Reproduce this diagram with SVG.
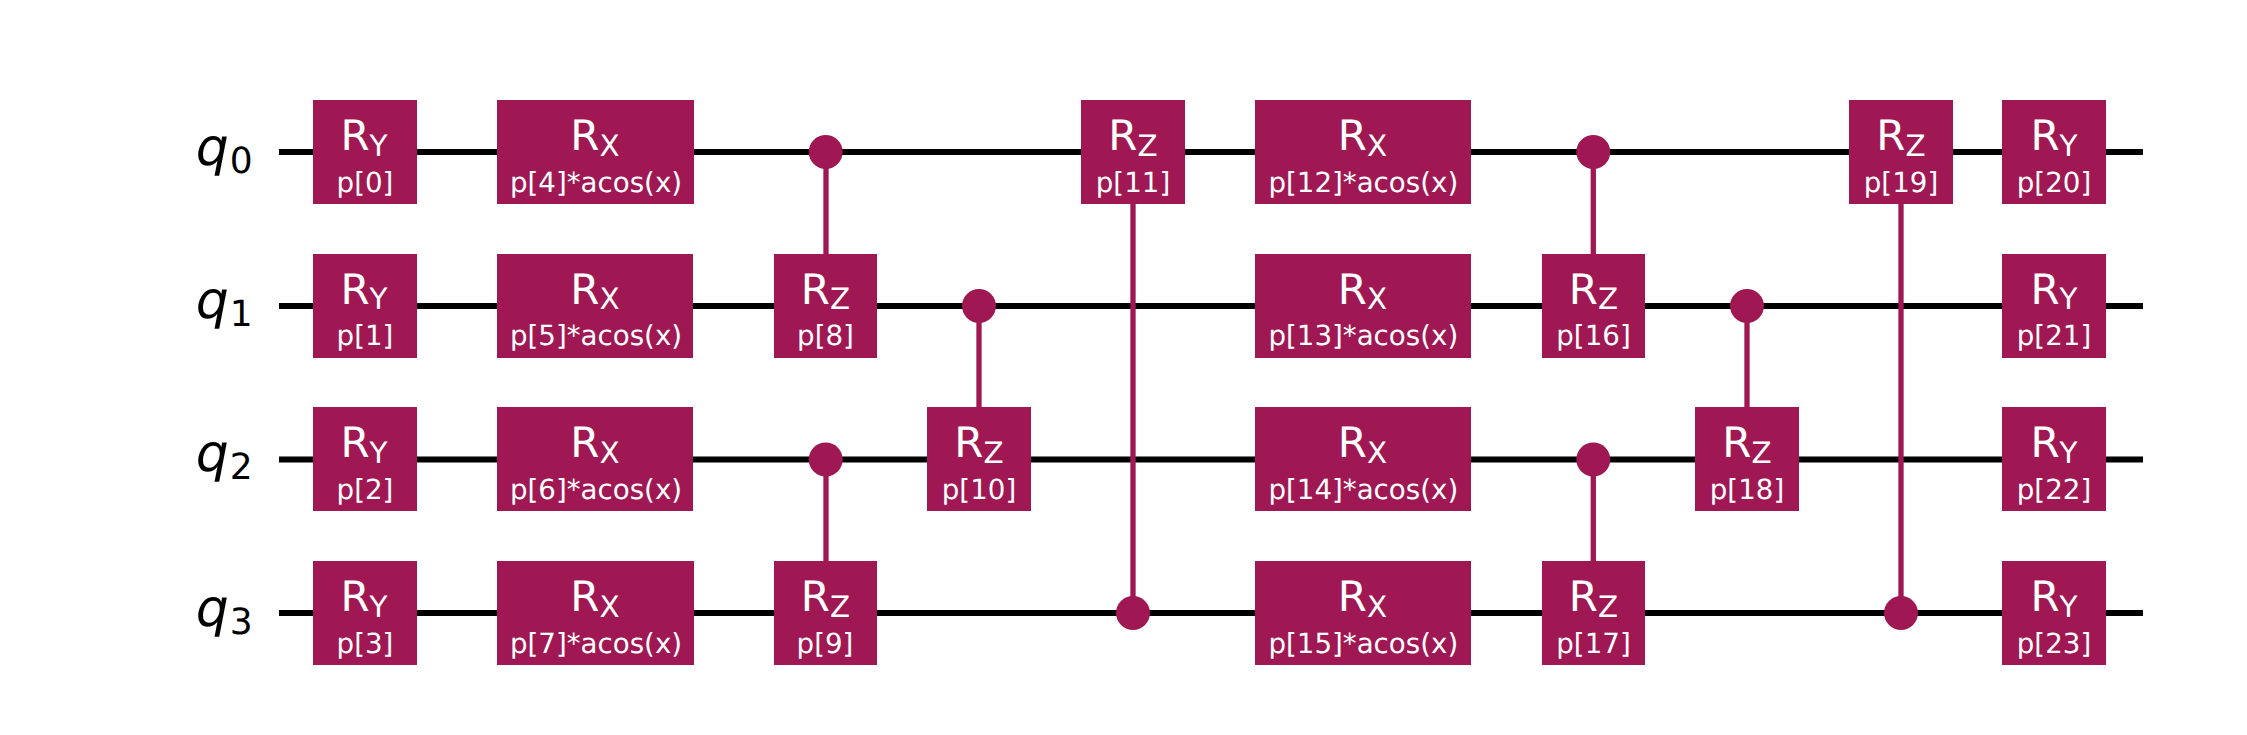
<svg xmlns="http://www.w3.org/2000/svg" width="2247" height="735" viewBox="0 0 2247 735">
<style>
text{font-family:"DejaVu Sans",sans-serif;text-anchor:middle;text-rendering:geometricPrecision}
.g{fill:#9f1853}
.m{fill:#fff;font-size:42px}
.m tspan{font-size:29.4px}
.s{fill:#fff;font-size:27.7px}
.w{stroke:#000;stroke-width:6;fill:none}
.c{stroke:#9f1853;stroke-width:5.3;fill:none}
.q{fill:#000;font-size:52px;font-style:italic;text-anchor:end}
.q tspan{font-size:36px;font-style:normal}
</style>
<rect width="2247" height="735" fill="#fff"/>
<g id="labels">
<text class="q" x="252.7" y="165">q<tspan dx="1" dy="8.1">0</tspan></text>
<text class="q" x="252.7" y="318">q<tspan dx="1" dy="8.1">1</tspan></text>
<text class="q" x="252.7" y="471.2">q<tspan dx="1" dy="8.1">2</tspan></text>
<text class="q" x="252.7" y="626">q<tspan dx="1" dy="8.1">3</tspan></text>
</g>
<g id="wires">
<path class="w" d="M279 152H2143"/>
<path class="w" d="M279 306H2143"/>
<path class="w" d="M279 459.5H2143"/>
<path class="w" d="M279 613H2143"/>
</g>
<g id="connectors">
<path class="c" d="M826 152V254"/>
<path class="c" d="M826 459.5V561"/>
<path class="c" d="M979 306V407"/>
<path class="c" d="M1133 204V613"/>
<path class="c" d="M1593.3 152V254"/>
<path class="c" d="M1593.3 459.5V561"/>
<path class="c" d="M1747 306V407"/>
<path class="c" d="M1901 204V613"/>
</g>
<g id="controls">
<circle class="g" cx="825.7" cy="152" r="17"/>
<circle class="g" cx="825.7" cy="459.5" r="17"/>
<circle class="g" cx="979" cy="306" r="17"/>
<circle class="g" cx="1133" cy="613" r="17"/>
<circle class="g" cx="1593.3" cy="152" r="17"/>
<circle class="g" cx="1593.3" cy="459.5" r="17"/>
<circle class="g" cx="1747" cy="306" r="17"/>
<circle class="g" cx="1901" cy="613" r="17"/>
</g>
<g id="gate-ry0"><rect class="g" x="313" y="100" width="104" height="104"/><text class="m" x="364" y="150">R<tspan dy="5.7">Y</tspan></text><text class="s" x="365" y="191.5">p[0]</text></g>
<g id="gate-ry1"><rect class="g" x="313" y="254" width="104" height="104"/><text class="m" x="364" y="303.7">R<tspan dy="5.7">Y</tspan></text><text class="s" x="365" y="345">p[1]</text></g>
<g id="gate-ry2"><rect class="g" x="313" y="407" width="104" height="104"/><text class="m" x="364" y="457">R<tspan dy="5.7">Y</tspan></text><text class="s" x="365" y="498.5">p[2]</text></g>
<g id="gate-ry3"><rect class="g" x="313" y="561" width="104" height="104"/><text class="m" x="364" y="611">R<tspan dy="5.7">Y</tspan></text><text class="s" x="365" y="652.5">p[3]</text></g>
<g id="gate-rx4"><rect class="g" x="497" y="100" width="197" height="104"/><text class="m" x="595" y="150">R<tspan dy="5.7">X</tspan></text><text class="s" x="596" y="191.5">p[4]*acos(x)</text></g>
<g id="gate-rx5"><rect class="g" x="497" y="254" width="196" height="104"/><text class="m" x="595" y="303.7">R<tspan dy="5.7">X</tspan></text><text class="s" x="596" y="345">p[5]*acos(x)</text></g>
<g id="gate-rx6"><rect class="g" x="497" y="407" width="196" height="104"/><text class="m" x="595" y="457">R<tspan dy="5.7">X</tspan></text><text class="s" x="596" y="498.5">p[6]*acos(x)</text></g>
<g id="gate-rx7"><rect class="g" x="497" y="561" width="197" height="104"/><text class="m" x="595" y="611">R<tspan dy="5.7">X</tspan></text><text class="s" x="596" y="652.5">p[7]*acos(x)</text></g>
<g id="gate-rz8"><rect class="g" x="774" y="254" width="103" height="104"/><text class="m" x="825.5" y="303.7">R<tspan dy="5.7">Z</tspan></text><text class="s" x="825.5" y="345">p[8]</text></g>
<g id="gate-rz9"><rect class="g" x="774" y="561" width="103" height="104"/><text class="m" x="825.5" y="611">R<tspan dy="5.7">Z</tspan></text><text class="s" x="825" y="652.5">p[9]</text></g>
<g id="gate-rz10"><rect class="g" x="927" y="407" width="104" height="104"/><text class="m" x="979" y="457">R<tspan dy="5.7">Z</tspan></text><text class="s" x="979" y="498.5">p[10]</text></g>
<g id="gate-rz11"><rect class="g" x="1081" y="100" width="104" height="104"/><text class="m" x="1133" y="150">R<tspan dy="5.7">Z</tspan></text><text class="s" x="1133" y="191.5">p[11]</text></g>
<g id="gate-rx12"><rect class="g" x="1255" y="100" width="216" height="104"/><text class="m" x="1362.5" y="150">R<tspan dy="5.7">X</tspan></text><text class="s" x="1363.3" y="191.5">p[12]*acos(x)</text></g>
<g id="gate-rx13"><rect class="g" x="1255" y="254" width="216" height="104"/><text class="m" x="1362.5" y="303.7">R<tspan dy="5.7">X</tspan></text><text class="s" x="1363.3" y="345">p[13]*acos(x)</text></g>
<g id="gate-rx14"><rect class="g" x="1255" y="407" width="216" height="104"/><text class="m" x="1362.5" y="457">R<tspan dy="5.7">X</tspan></text><text class="s" x="1363.3" y="498.5">p[14]*acos(x)</text></g>
<g id="gate-rx15"><rect class="g" x="1255" y="561" width="216" height="104"/><text class="m" x="1362.5" y="611">R<tspan dy="5.7">X</tspan></text><text class="s" x="1363.3" y="652.5">p[15]*acos(x)</text></g>
<g id="gate-rz16"><rect class="g" x="1542" y="254" width="103" height="104"/><text class="m" x="1593.5" y="303.7">R<tspan dy="5.7">Z</tspan></text><text class="s" x="1593.5" y="345">p[16]</text></g>
<g id="gate-rz17"><rect class="g" x="1542" y="561" width="103" height="104"/><text class="m" x="1593.5" y="611">R<tspan dy="5.7">Z</tspan></text><text class="s" x="1593.5" y="652.5">p[17]</text></g>
<g id="gate-rz18"><rect class="g" x="1695" y="407" width="104" height="104"/><text class="m" x="1747" y="457">R<tspan dy="5.7">Z</tspan></text><text class="s" x="1747" y="498.5">p[18]</text></g>
<g id="gate-rz19"><rect class="g" x="1849" y="100" width="104" height="104"/><text class="m" x="1901" y="150">R<tspan dy="5.7">Z</tspan></text><text class="s" x="1901" y="191.5">p[19]</text></g>
<g id="gate-ry20"><rect class="g" x="2002" y="100" width="104" height="104"/><text class="m" x="2054" y="150">R<tspan dy="5.7">Y</tspan></text><text class="s" x="2054" y="191.5">p[20]</text></g>
<g id="gate-ry21"><rect class="g" x="2002" y="254" width="104" height="104"/><text class="m" x="2054" y="303.7">R<tspan dy="5.7">Y</tspan></text><text class="s" x="2054" y="345">p[21]</text></g>
<g id="gate-ry22"><rect class="g" x="2002" y="407" width="104" height="104"/><text class="m" x="2054" y="457">R<tspan dy="5.7">Y</tspan></text><text class="s" x="2054" y="498.5">p[22]</text></g>
<g id="gate-ry23"><rect class="g" x="2002" y="561" width="104" height="104"/><text class="m" x="2054" y="611">R<tspan dy="5.7">Y</tspan></text><text class="s" x="2054" y="652.5">p[23]</text></g>
</svg>
